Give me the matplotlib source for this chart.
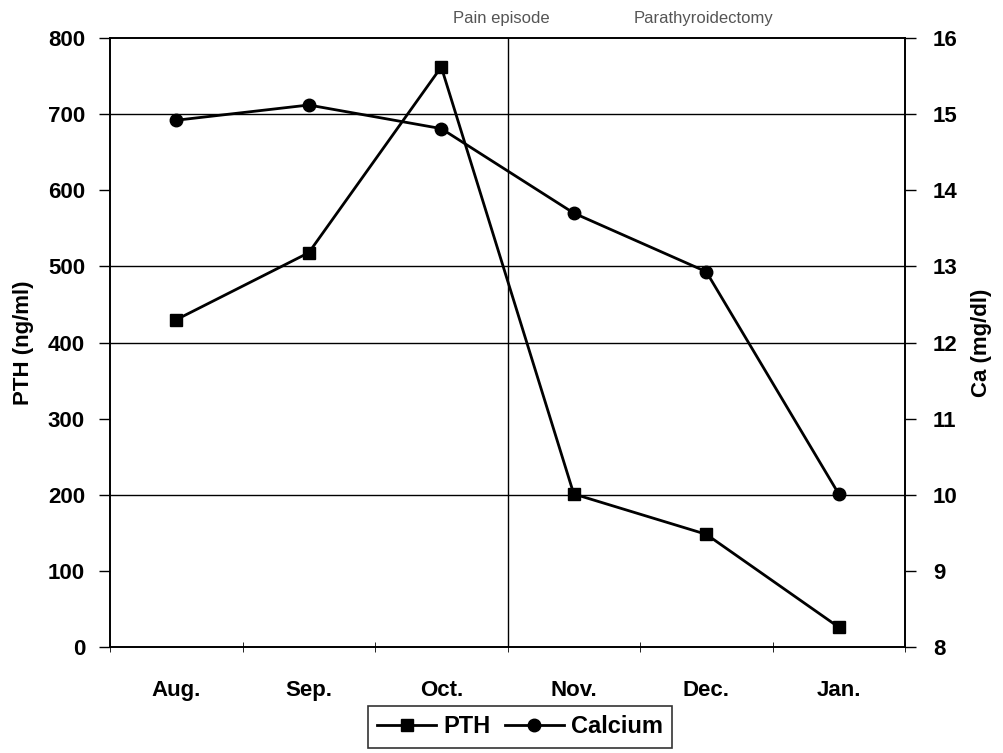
import numpy as np
from matplotlib import pyplot as plt
from matplotlib.lines import Line2D

months = ['Aug.', 'Sep.', 'Oct.', 'Nov.', 'Dec.', 'Jan.']
pth = [430, 518, 762, 201, 148, 26]
calcium = [14.92, 15.12, 14.81, 13.70, 12.93, 10.01]
pth_grid = [200, 400, 500, 700]
events = ['Pain episode', 'Parathyroidectomy']
event_pos = [2.45, 3.98]

plt.rcParams['font.family'] = ['Liberation Sans', 'DejaVu Sans']

fig = plt.figure(figsize=(10.04, 7.53), dpi=100)
ax = fig.add_axes([0.1096, 0.1408, 0.7918, 0.8087])
x = np.arange(len(months))

for g in pth_grid:
    ax.axhline(g, color='black', lw=1.0, zorder=1)
ax.axvline(2.5, color='black', lw=1.0, zorder=1)

ax.plot(x, pth, '-s', color='black', lw=2, ms=8, zorder=3)
ax.set_xlim(-0.5, 5.5)
ax.set_ylim(0, 800)
ax.set_yticks(range(0, 801, 100))
ax.set_ylabel('PTH (ng/ml)', fontsize=16, fontweight='bold', labelpad=10)

ax2 = ax.twinx()
ax2.plot(x, calcium, '-o', color='black', lw=2, ms=9, zorder=3)
ax2.set_ylim(8, 16)
ax2.set_yticks(range(8, 17))
ax2.set_ylabel('Ca (mg/dl)', fontsize=16, fontweight='bold', labelpad=10)

ax.set_xticks(x)
ax.set_xticklabels(months)
ax.set_xticks(np.arange(-0.5, 6, 1), minor=True)
ax.tick_params(axis='x', which='major', length=0, pad=24)
ax.tick_params(axis='x', which='minor', length=7, direction='inout')
ax.tick_params(axis='y', length=8, width=1, pad=10)
ax2.tick_params(axis='y', length=8, width=1, pad=12)
for a in (ax, ax2):
    for lbl in a.get_xticklabels() + a.get_yticklabels():
        lbl.set_fontsize(16)
        lbl.set_fontweight('bold')
    for s in a.spines.values():
        s.set_linewidth(1.2)

for name, pos in zip(events, event_pos):
    ax.text(pos, 1.02, name, transform=ax.get_xaxis_transform(),
            ha='center', va='bottom', fontsize=12, color='#555555')

handles = [Line2D([], [], color='black', marker='s', lw=2, ms=8),
           Line2D([], [], color='black', marker='o', lw=2, ms=9)]
leg = fig.legend(handles, ['PTH', 'Calcium'], loc='center',
                 bbox_to_anchor=(0.518, 0.035), ncol=2, frameon=True,
                 fancybox=False, edgecolor='black', handlelength=2.5,
                 columnspacing=0.6, handletextpad=0.3,
                 prop={'size': 17, 'weight': 'bold'})
leg.get_frame().set_linewidth(1.2)

fig.savefig('out.png')
